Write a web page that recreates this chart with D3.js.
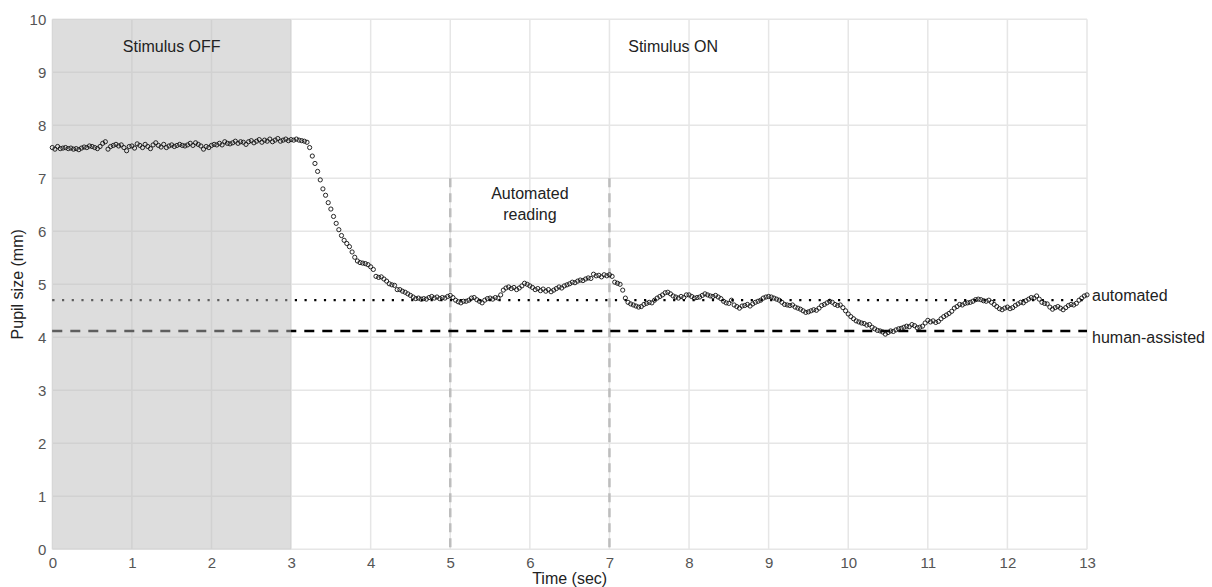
<!DOCTYPE html>
<html><head><meta charset="utf-8">
<script src="https://cdn.jsdelivr.net/npm/d3@7"></script>
<style>
body{margin:0;background:#fff;}
text{font-family:"Liberation Sans",Arial,sans-serif;}
</style></head>
<body><svg id="chart" width="1212" height="587"></svg>
<script>
// Sampling: 30 samples per second, from 0 to 13 s
const sampleRate = 30;
const pupilSize = [
7.58,7.55,7.60,7.56,7.57,7.58,7.56,7.57,7.55,7.56,7.54,7.57,7.59,7.58,7.61,
7.60,7.58,7.56,7.60,7.66,7.69,7.55,7.60,7.62,7.64,7.61,7.63,7.58,7.52,7.60,
7.61,7.57,7.65,7.62,7.58,7.64,7.60,7.56,7.63,7.67,7.62,7.59,7.64,7.58,7.61,
7.63,7.60,7.62,7.64,7.62,7.61,7.63,7.66,7.62,7.67,7.64,7.61,7.55,7.60,7.58,
7.62,7.64,7.63,7.66,7.63,7.69,7.66,7.65,7.67,7.70,7.66,7.69,7.68,7.64,7.69,
7.71,7.67,7.70,7.73,7.68,7.72,7.70,7.74,7.69,7.72,7.75,7.70,7.72,7.74,7.71,
7.73,7.72,7.74,7.72,7.71,7.70,7.68,7.58,7.42,7.28,7.13,6.97,6.80,6.68,6.54,
6.42,6.28,6.15,6.03,5.92,5.83,5.77,5.71,5.61,5.51,5.44,5.41,5.40,5.39,5.37,
5.33,5.28,5.15,5.13,5.14,5.10,5.06,5.01,4.99,4.98,4.90,4.90,4.87,4.85,4.82,
4.79,4.76,4.73,4.74,4.72,4.73,4.72,4.75,4.77,4.74,4.76,4.73,4.75,4.74,4.77,
4.79,4.75,4.70,4.67,4.65,4.68,4.68,4.70,4.74,4.75,4.71,4.68,4.65,4.70,4.73,
4.74,4.72,4.75,4.74,4.80,4.89,4.93,4.95,4.92,4.94,4.90,4.93,4.97,5.02,5.00,
4.97,4.94,4.90,4.92,4.88,4.91,4.87,4.90,4.86,4.89,4.92,4.95,4.93,4.97,4.99,
5.01,5.04,5.03,5.06,5.08,5.07,5.10,5.12,5.11,5.19,5.16,5.17,5.14,5.18,5.16,
5.18,5.15,5.04,5.02,5.00,4.89,4.74,4.66,4.63,4.61,4.59,4.57,4.58,4.62,4.64,
4.66,4.65,4.70,4.74,4.77,4.80,4.84,4.85,4.82,4.78,4.76,4.74,4.77,4.75,4.80,
4.80,4.77,4.74,4.75,4.76,4.79,4.82,4.80,4.78,4.77,4.79,4.76,4.73,4.68,4.65,
4.64,4.70,4.61,4.58,4.55,4.59,4.60,4.62,4.59,4.63,4.66,4.68,4.70,4.74,4.76,
4.77,4.76,4.74,4.72,4.70,4.66,4.62,4.61,4.60,4.61,4.57,4.55,4.53,4.50,4.47,
4.48,4.50,4.52,4.51,4.55,4.60,4.62,4.65,4.68,4.66,4.62,4.60,4.61,4.56,4.50,
4.44,4.39,4.35,4.31,4.29,4.27,4.26,4.23,4.24,4.19,4.16,4.13,4.12,4.10,4.06,
4.09,4.12,4.11,4.14,4.16,4.17,4.19,4.21,4.20,4.24,4.22,4.18,4.19,4.21,4.27,
4.32,4.29,4.31,4.28,4.30,4.35,4.39,4.42,4.45,4.49,4.55,4.58,4.62,4.61,4.64,
4.65,4.66,4.68,4.71,4.72,4.71,4.69,4.68,4.70,4.66,4.62,4.58,4.54,4.52,4.55,
4.57,4.54,4.56,4.60,4.63,4.66,4.65,4.69,4.72,4.75,4.74,4.78,4.72,4.66,4.64,
4.63,4.57,4.53,4.56,4.58,4.55,4.52,4.56,4.60,4.62,4.61,4.64,4.70,4.74,4.78,
4.80
];
const xTicks = [0,1,2,3,4,5,6,7,8,9,10,11,12,13];
const yTicks = [0,1,2,3,4,5,6,7,8,9,10];
const stimulusOff = [0, 3];
const readingWindow = [5, 7];
const readingTop = 7;
const refLines = [
  {name: "automated", value: 4.70},
  {name: "human-assisted", value: 4.12}
];
const phaseLabels = [
  {text: "Stimulus OFF", x: 1.5},
  {text: "Stimulus ON", x: 7.8}
];

const svg = d3.select("#chart");
const L = 52.3, R = 1087, T = 19.3, B = 549.3;
const x = d3.scaleLinear().domain([0, 13]).range([L, R]);
const y = d3.scaleLinear().domain([0, 10]).range([B, T]);

// grid
const g = svg.append("g");
g.selectAll(".gx").data(xTicks).join("line")
  .attr("x1", d => x(d)).attr("x2", d => x(d)).attr("y1", T).attr("y2", B)
  .attr("stroke", "#e6e6e6").attr("stroke-width", 1.5);
g.selectAll(".gy").data(yTicks).join("line")
  .attr("x1", L).attr("x2", R).attr("y1", d => y(d)).attr("y2", d => y(d))
  .attr("stroke", "#e6e6e6").attr("stroke-width", 1.5);

// reading window
svg.selectAll(".rw").data(readingWindow).join("line")
  .attr("x1", d => x(d)).attr("x2", d => x(d)).attr("y1", y(readingTop)).attr("y2", y(0))
  .attr("stroke", "#bdbdbd").attr("stroke-width", 2.5).attr("stroke-dasharray", "9,6");

// reference lines
svg.append("line").attr("x1", x(0)).attr("x2", x(13))
  .attr("y1", y(refLines[0].value)).attr("y2", y(refLines[0].value))
  .attr("stroke", "#000").attr("stroke-width", 2.2).attr("stroke-dasharray", "2.2,7.5");
svg.append("line").attr("x1", x(0)).attr("x2", x(13))
  .attr("y1", y(refLines[1].value)).attr("y2", y(refLines[1].value))
  .attr("stroke", "#000").attr("stroke-width", 2.6).attr("stroke-dasharray", "10,8");

// stimulus off shading
svg.append("rect")
  .attr("x", x(stimulusOff[0])).attr("y", y(10))
  .attr("width", x(stimulusOff[1]) - x(stimulusOff[0])).attr("height", y(0) - y(10))
  .attr("fill", "#bbbbbb").attr("fill-opacity", 0.5);

// points
svg.append("g").selectAll("circle").data(pupilSize).join("circle")
  .attr("cx", (d, i) => x(i / sampleRate)).attr("cy", d => y(d))
  .attr("r", 2.1).attr("fill", "none").attr("stroke", "#111").attr("stroke-width", 0.9);

// axes
const xAxis = d3.axisBottom(x).tickValues(xTicks).tickSize(0).tickPadding(8);
const xg = svg.append("g").attr("transform", `translate(0,${B})`).call(xAxis);
const yAxis = d3.axisLeft(y).tickValues(yTicks).tickSize(0).tickPadding(6);
const yg = svg.append("g").attr("transform", `translate(${L},0)`).call(yAxis);
[xg, yg].forEach(a => {
  a.select(".domain").remove();
  a.selectAll("text").attr("font-size", 15).attr("fill", "#555")
    .attr("font-family", "Liberation Sans, Arial, sans-serif");
});

// titles
svg.append("text").attr("x", x(6.5)).attr("y", 584).attr("text-anchor", "middle")
  .attr("font-size", 16).attr("fill", "#222").text("Time (sec)");
svg.append("text").attr("transform", `translate(23,${(T + B) / 2}) rotate(-90)`)
  .attr("text-anchor", "middle").attr("font-size", 16).attr("fill", "#222").text("Pupil size (mm)");

// phase labels
svg.selectAll(".pl").data(phaseLabels).join("text")
  .attr("x", d => x(d.x)).attr("y", 52).attr("text-anchor", "middle")
  .attr("font-size", 16).attr("fill", "#222").text(d => d.text);

// automated reading label
const ar = svg.append("text").attr("x", x(6)).attr("text-anchor", "middle")
  .attr("font-size", 16).attr("fill", "#222");
ar.append("tspan").attr("x", x(6)).attr("y", 199).text("Automated");
ar.append("tspan").attr("x", x(6)).attr("y", 220).text("reading");

// reference line labels
svg.append("text").attr("x", R + 5).attr("y", y(refLines[0].value) + 1)
  .attr("font-size", 16).attr("fill", "#222").text(refLines[0].name);
svg.append("text").attr("x", R + 5).attr("y", y(refLines[1].value) + 12)
  .attr("font-size", 16).attr("fill", "#222").text(refLines[1].name);
</script></body></html>
